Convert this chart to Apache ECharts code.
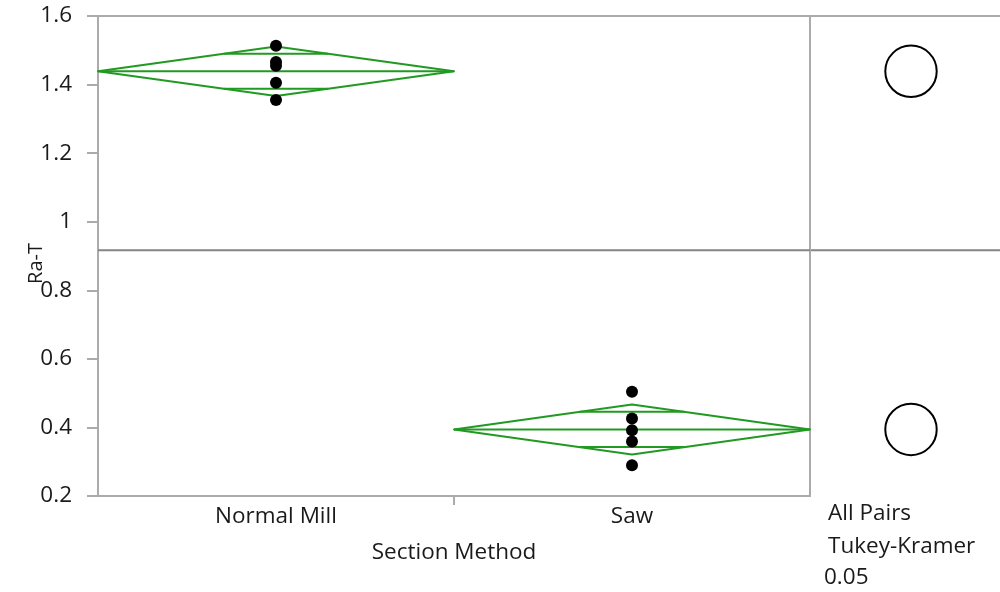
<!DOCTYPE html>
<html>
<head>
<meta charset="utf-8">
<style>
  html, body { margin: 0; padding: 0; background: #ffffff; }
  #chart { width: 1000px; height: 592px; }
</style>
<script src="https://cdn.jsdelivr.net/npm/echarts@6/dist/echarts.min.js"></script>
</head>
<body>
<div id="chart"></div>
<script>
// Ra-T measurements grouped by section method
const categories = ['Normal Mill', 'Saw'];
const normalMill = [1.513, 1.466, 1.455, 1.405, 1.355];
const saw = [0.504, 0.426, 0.392, 0.359, 0.290];
// 95% confidence half-widths of each group mean (means diamonds)
const ciHalfWidth = [0.072, 0.073];
// Tukey-Kramer comparison circle radii (in Ra-T units)
const circleRadius = [0.075, 0.075];
// Response axis
const yMin = 0.2, yMax = 1.6, yStep = 0.2;
const panelText = ['All Pairs', 'Tukey-Kramer', '0.05'];

const groups = [normalMill, saw];
const mean = a => a.reduce((s, v) => s + v, 0) / a.length;
const groupMeans = groups.map(mean);
const allValues = groups.flat();
const grandMean = mean(allValues);

const FONT = 'Open Sans';
const FS = 22.5;
const TEXT = '#1a1a1a';
const GREEN = '#219a21';
const AXIS = '#ababab';

const pointData = [];
groups.forEach((g, i) => g.forEach(v => pointData.push([i + 0.5, v])));

const diamondData = groupMeans.map((m, i) => [i, m, ciHalfWidth[i]]);
const circleData = groupMeans.map((m, i) => [0.5, m, circleRadius[i]]);

function renderDiamond(params, api) {
  const i = api.value(0), m = api.value(1), ci = api.value(2);
  const left = api.coord([i, m]);
  const right = api.coord([i + 1, m]);
  const top = api.coord([i + 0.5, m + ci]);
  const bottom = api.coord([i + 0.5, m - ci]);
  const k = 1 / Math.SQRT2;
  const half = 0.5 * (1 - k);
  const style = { stroke: GREEN, lineWidth: 2, fill: null, lineJoin: 'round' };
  const ovUpL = api.coord([i + 0.5 - half, m + ci * k]);
  const ovUpR = api.coord([i + 0.5 + half, m + ci * k]);
  const ovLoL = api.coord([i + 0.5 - half, m - ci * k]);
  const ovLoR = api.coord([i + 0.5 + half, m - ci * k]);
  return {
    type: 'group',
    children: [
      { type: 'polygon', shape: { points: [left, top, right, bottom] }, style },
      { type: 'line', shape: { x1: left[0], y1: left[1], x2: right[0], y2: right[1] }, style },
      { type: 'line', shape: { x1: ovUpL[0], y1: ovUpL[1], x2: ovUpR[0], y2: ovUpR[1] }, style },
      { type: 'line', shape: { x1: ovLoL[0], y1: ovLoL[1], x2: ovLoR[0], y2: ovLoR[1] }, style }
    ]
  };
}

function renderCircle(params, api) {
  const c = api.coord([api.value(0), api.value(1)]);
  const r = api.size([0, api.value(2)])[1];
  return {
    type: 'circle',
    shape: { cx: c[0], cy: c[1], r: r },
    style: { stroke: '#000', lineWidth: 2, fill: null }
  };
}

const chart = echarts.init(document.getElementById('chart'), null, { renderer: 'canvas' });

chart.setOption({
  animation: false,
  textStyle: { fontFamily: FONT },
  grid: [
    { left: 98, right: 190, top: 16, bottom: 96, show: true, borderColor: AXIS, borderWidth: 2,
      backgroundColor: 'transparent', outerBoundsMode: 'none' },
    { left: 811, width: 200, top: 16, bottom: 96, outerBoundsMode: 'none' }
  ],
  xAxis: [
    {
      gridIndex: 0, type: 'value', min: 0, max: categories.length,
      name: 'Section Method', nameLocation: 'middle', nameGap: 45, nameMoveOverlap: false,
      nameTextStyle: { fontSize: FS, color: TEXT, fontFamily: FONT },
      axisLine: { show: true, lineStyle: { color: AXIS, width: 2 } },
      axisTick: { show: true, length: 9, lineStyle: { color: AXIS, width: 2 },
                  customValues: categories.slice(1).map((c, i) => i + 1) },
      axisLabel: { fontSize: FS, color: TEXT, margin: 9, fontFamily: FONT,
                   customValues: categories.map((c, i) => i + 0.5),
                   formatter: v => categories[Math.floor(v)] },
      splitLine: { show: false }
    },
    {
      gridIndex: 1, type: 'value', min: 0, max: 1, position: 'top',
      axisLine: { show: true, lineStyle: { color: AXIS, width: 2 } },
      axisTick: { show: false }, axisLabel: { show: false }, splitLine: { show: false }
    }
  ],
  yAxis: [
    {
      gridIndex: 0, type: 'value', min: yMin, max: yMax, interval: yStep,
      name: 'Ra-T', nameLocation: 'middle', nameGap: 52, nameMoveOverlap: false,
      nameTextStyle: { fontSize: 20, color: TEXT, fontFamily: FONT, padding: [0, 15, 0, 0] },
      axisLine: { show: true, lineStyle: { color: AXIS, width: 2 } },
      axisTick: { show: true, length: 11, lineStyle: { color: AXIS, width: 2 } },
      axisLabel: { fontSize: FS, color: TEXT, margin: 26, fontFamily: FONT },
      splitLine: { show: false }
    },
    {
      gridIndex: 1, type: 'value', min: yMin, max: yMax, interval: yStep, show: false
    }
  ],
  series: [
    {
      type: 'line', xAxisIndex: 0, yAxisIndex: 0, symbol: 'none', silent: true,
      data: [[0, grandMean], [categories.length, grandMean]],
      lineStyle: { color: '#858585', width: 2 }, z: 1
    },
    {
      type: 'line', xAxisIndex: 1, yAxisIndex: 1, symbol: 'none', silent: true,
      data: [[0, grandMean], [1, grandMean]],
      lineStyle: { color: '#858585', width: 2 }, z: 1
    },
    {
      type: 'custom', xAxisIndex: 0, yAxisIndex: 0, renderItem: renderDiamond,
      data: diamondData, z: 2, silent: true
    },
    {
      type: 'scatter', xAxisIndex: 0, yAxisIndex: 0, data: pointData,
      symbol: 'circle', symbolSize: 12, itemStyle: { color: '#000', opacity: 1 }, z: 3
    },
    {
      type: 'custom', xAxisIndex: 1, yAxisIndex: 1, renderItem: renderCircle,
      data: circleData, z: 3, silent: true
    }
  ],
  graphic: [
    { type: 'text', left: 828, top: 502, style: { text: panelText[0], fontSize: FS, fill: TEXT, fontFamily: FONT } },
    { type: 'text', left: 828, top: 535, style: { text: panelText[1], fontSize: FS, fill: TEXT, fontFamily: FONT } },
    { type: 'text', left: 824, top: 566, style: { text: panelText[2], fontSize: FS, fill: TEXT, fontFamily: FONT } }
  ]
});
</script>
</body>
</html>
